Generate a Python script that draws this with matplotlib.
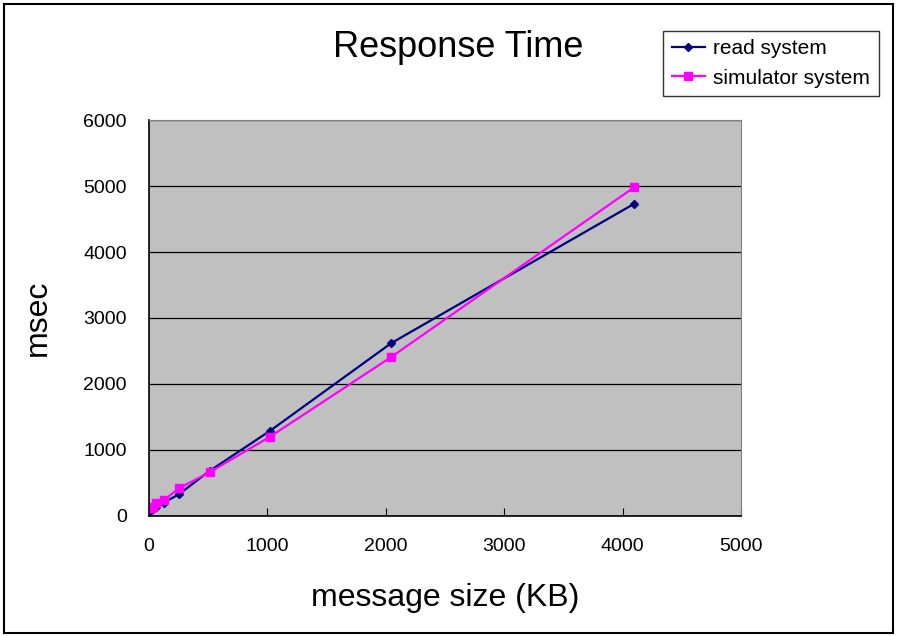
import matplotlib
matplotlib.use("Agg")
import matplotlib.pyplot as plt
from matplotlib.patches import Rectangle

plt.rcParams["font.family"] = ["Liberation Sans", "DejaVu Sans"]

# message size (KB) and measured response times (msec)
sizes = [8, 16, 32, 64, 128, 256, 512, 1024, 2048, 4096]
read_ms = [80, 90, 110, 140, 200, 330, 680, 1290, 2620, 4730]
sim_ms = [120, 125, 140, 190, 240, 420, 660, 1200, 2410, 4980]

x_ticks = [0, 1000, 2000, 3000, 4000, 5000]
y_ticks = [0, 1000, 2000, 3000, 4000, 5000, 6000]

fig = plt.figure(figsize=(8.97, 6.36), dpi=100)
ax = fig.add_axes([0.166, 0.189, 0.660, 0.622])
ax.set_facecolor("#C0C0C0")

ax.plot(sizes, read_ms, color="#000080", marker="D", markersize=4,
        linewidth=1.6, label="read system")
ax.plot(sizes, sim_ms, color="#FF00FF", marker="s", markersize=6,
        linewidth=1.6, label="simulator system")

ax.set_xlim(0, 5000)
ax.set_ylim(0, 6000)
ax.set_xticks(x_ticks)
ax.set_yticks(y_ticks)
ax.tick_params(axis="x", direction="in", length=6, pad=16, labelsize=14)
ax.tick_params(axis="y", length=0, pad=16, labelsize=14)
ax.grid(axis="y", color="black", linewidth=0.9)
ax.set_axisbelow(True)
for side in ["top", "right"]:
    ax.spines[side].set_color("#808080")
for side in ["left", "bottom"]:
    ax.spines[side].set_color("black")
    ax.spines[side].set_linewidth(1.2)

ax.set_xlabel("message size (KB)", fontsize=23, labelpad=20)
ax.set_ylabel("msec", fontsize=23, labelpad=22)
fig.text(0.511, 0.925, "Response Time", fontsize=26, ha="center", va="center")

leg = fig.legend(loc="upper left", bbox_to_anchor=(0.728, 0.968),
                 fontsize=15, frameon=True, fancybox=False,
                 edgecolor="black", handlelength=1.6, borderpad=0.4,
                 labelspacing=0.5, handletextpad=0.4)
leg.get_frame().set_linewidth(1.0)

# outer border around the whole chart
fig.patches.append(Rectangle((0.005, 0.004), 0.99, 0.99, transform=fig.transFigure,
                             fill=False, edgecolor="black", linewidth=1.5))

fig.savefig("out.png", dpi=100)
